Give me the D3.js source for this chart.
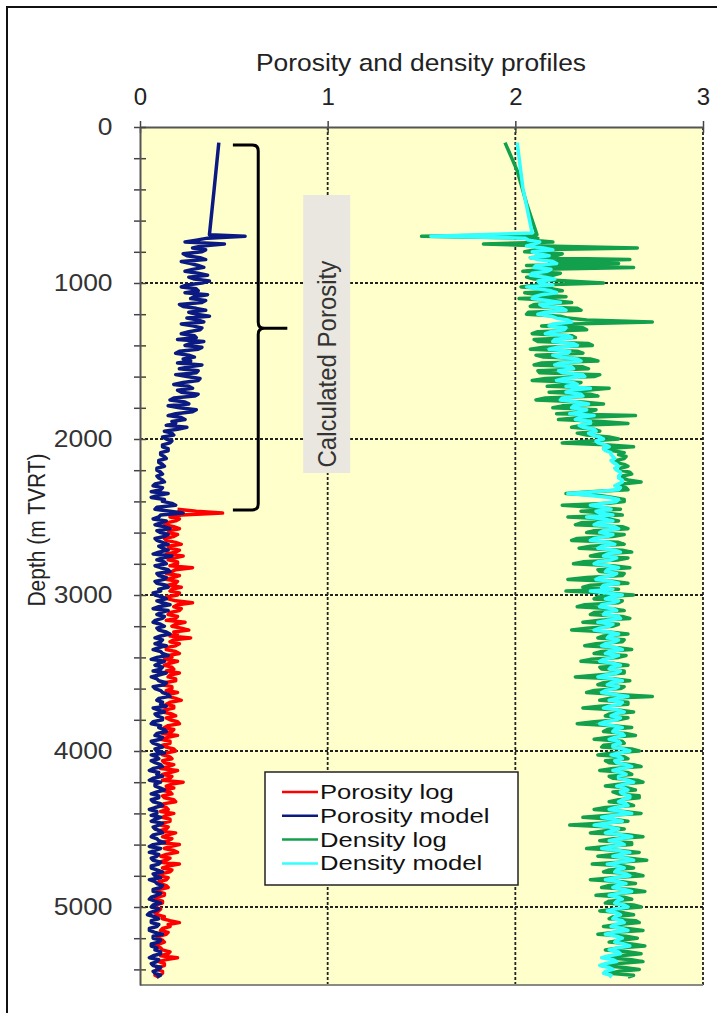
<!DOCTYPE html>
<html>
<head>
<meta charset="utf-8">
<script src="https://cdn.jsdelivr.net/npm/d3@7"></script>
<style>
body { margin: 0; background: #fff; }
text { font-family: "Liberation Sans", Arial, sans-serif; }
</style>
</head>
<body>
<div id="chart"></div>
<script>
// ---- data ----
var xTicks = [0, 1, 2, 3];
var depthTicks = [0, 1000, 2000, 3000, 4000, 5000];
var depthMinorStep = 200;

// logs are sampled every 12.5 m from 700 m down (one row = 200 m)
var gridStart = 700, gridStep = 12.5;

// smooth upper parts (above 700 m)
var porModelTopDepth = [100, 400, 690];
var porModelTop = [0.42, 0.395, 0.37];
var densLogTopDepth = [100, 280, 490, 690];
var densLogTop = [1.945, 2.01, 2.06, 2.115];
var densModelTopDepth = [100, 390, 680];
var densModelTop = [2.01, 2.04, 2.09];

// porosity model, 700 - 5450 m
var porModel = [
  0.56,0.36,0.30,0.24,0.45,0.33,0.28,0.35,0.33,0.23,0.25,0.32,0.35,0.22,0.27,0.31,
  0.34,0.28,0.24,0.31,0.36,0.26,0.29,0.37,0.33,0.25,0.22,0.30,0.31,0.24,0.36,0.29,
  0.27,0.35,0.33,0.21,0.23,0.30,0.35,0.26,0.30,0.37,0.25,0.31,0.34,0.22,0.28,0.33,
  0.32,0.26,0.22,0.29,0.30,0.20,0.34,0.27,0.24,0.33,0.31,0.21,0.19,0.26,0.29,0.23,
  0.27,0.20,0.33,0.26,0.21,0.31,0.30,0.19,0.25,0.32,0.31,0.23,0.18,0.26,0.28,0.20,
  0.22,0.31,0.29,0.18,0.16,0.24,0.26,0.15,0.21,0.30,0.28,0.19,0.15,0.22,0.24,0.17,
  0.19,0.14,0.25,0.20,0.13,0.17,0.18,0.12,0.14,0.17,0.16,0.12,0.12,0.15,0.15,0.11,
  0.11,0.13,0.14,0.10,0.10,0.12,0.13,0.09,0.09,0.11,0.12,0.09,0.10,0.12,0.13,0.08,
  0.07,0.12,0.11,0.06,0.15,0.09,0.06,0.13,0.12,0.17,0.19,0.09,0.08,0.16,0.23,0.11,
  0.10,0.07,0.14,0.11,0.08,0.13,0.16,0.09,0.11,0.15,0.13,0.08,0.09,0.12,0.15,0.10,
  0.12,0.15,0.10,0.07,0.17,0.12,0.09,0.13,0.14,0.08,0.11,0.15,0.16,0.09,0.10,0.14,
  0.13,0.08,0.09,0.14,0.15,0.10,0.11,0.07,0.08,0.12,0.14,0.09,0.12,0.16,0.10,0.07,
  0.15,0.11,0.09,0.13,0.12,0.08,0.07,0.11,0.13,0.09,0.10,0.14,0.16,0.11,0.08,0.12,
  0.11,0.08,0.14,0.10,0.07,0.11,0.12,0.15,0.09,0.06,0.13,0.10,0.08,0.12,0.11,0.07,
  0.14,0.10,0.06,0.09,0.10,0.14,0.13,0.07,0.08,0.11,0.12,0.15,0.16,0.10,0.09,0.12,
  0.11,0.14,0.07,0.10,0.13,0.08,0.09,0.12,0.12,0.07,0.06,0.11,0.10,0.13,0.14,0.09,
  0.08,0.12,0.11,0.06,0.07,0.10,0.12,0.08,0.09,0.13,0.06,0.09,0.10,0.06,0.08,0.11,
  0.12,0.07,0.05,0.10,0.09,0.12,0.07,0.05,0.11,0.08,0.08,0.11,0.13,0.09,0.06,0.10,
  0.10,0.06,0.07,0.11,0.12,0.08,0.05,0.09,0.09,0.06,0.11,0.08,0.06,0.12,0.10,0.07,
  0.08,0.11,0.12,0.07,0.06,0.09,0.10,0.13,0.07,0.05,0.11,0.08,0.05,0.10,0.09,0.06,
  0.07,0.11,0.10,0.06,0.06,0.09,0.12,0.07,0.08,0.11,0.05,0.08,0.09,0.12,0.11,0.07,
  0.07,0.11,0.09,0.06,0.05,0.08,0.11,0.07,0.06,0.10,0.08,0.05,0.04,0.08,0.10,0.06,
  0.06,0.10,0.09,0.05,0.05,0.08,0.12,0.07,0.07,0.11,0.10,0.06,0.06,0.09,0.08,0.11,
  0.11,0.07,0.05,0.10,0.09,0.06,0.07,0.11,0.10,0.07,0.08,0.11,0.09
];

// porosity log, 2450 - 5450 m
var porLogStart = 2450;
var porLog = [
  0.20,0.30,0.44,0.22,0.16,0.21,0.19,0.14,0.13,0.18,0.21,0.16,0.15,0.20,0.18,0.13,
  0.14,0.19,0.22,0.15,0.16,0.21,0.19,0.14,0.23,0.18,0.15,0.20,0.20,0.16,0.28,0.19,
  0.17,0.14,0.21,0.18,0.14,0.20,0.19,0.15,0.22,0.17,0.16,0.21,0.20,0.14,0.15,0.19,
  0.28,0.20,0.18,0.22,0.21,0.16,0.15,0.20,0.19,0.14,0.24,0.19,0.17,0.22,0.26,0.18,
  0.20,0.16,0.27,0.18,0.16,0.21,0.19,0.14,0.14,0.19,0.21,0.15,0.17,0.13,0.20,0.16,
  0.13,0.17,0.18,0.14,0.21,0.16,0.15,0.19,0.19,0.13,0.12,0.17,0.17,0.14,0.20,0.15,
  0.15,0.19,0.22,0.16,0.14,0.18,0.18,0.13,0.12,0.17,0.19,0.14,0.16,0.20,0.21,0.15,
  0.13,0.18,0.17,0.12,0.20,0.15,0.11,0.16,0.16,0.12,0.14,0.18,0.19,0.14,0.12,0.16,
  0.17,0.12,0.13,0.18,0.15,0.11,0.20,0.16,0.12,0.17,0.16,0.12,0.23,0.17,0.14,0.18,
  0.11,0.16,0.17,0.12,0.13,0.18,0.19,0.13,0.10,0.14,0.15,0.11,0.18,0.14,0.12,0.16,
  0.16,0.12,0.11,0.15,0.14,0.10,0.19,0.15,0.12,0.17,0.15,0.11,0.21,0.16,0.13,0.18,
  0.20,0.14,0.11,0.16,0.14,0.10,0.21,0.15,0.12,0.17,0.16,0.11,0.10,0.15,0.14,0.10,
  0.11,0.14,0.15,0.10,0.09,0.13,0.13,0.09,0.08,0.12,0.12,0.08,0.07,0.11,0.10,0.08,
  0.09,0.13,0.12,0.16,0.21,0.15,0.16,0.12,0.11,0.15,0.14,0.10,0.09,0.12,0.13,0.10,
  0.08,0.11,0.12,0.16,0.15,0.11,0.20,0.14,0.10,0.13,0.13,0.09,0.09,0.12,0.12,0.08,
  0.10
];

// density log, 700 - 5450 m
var densLog = [
  1.50,2.12,2.08,2.20,1.83,2.15,2.65,2.10,2.05,2.25,2.22,2.08,2.61,2.18,2.55,2.06,
  2.63,2.15,2.04,2.24,2.20,2.06,2.10,2.28,2.47,2.12,2.03,2.20,2.25,2.05,2.12,2.27,
  2.02,2.20,2.30,2.10,2.08,2.33,2.35,2.07,2.06,2.24,2.28,2.38,2.73,2.30,2.14,2.36,
  2.38,2.12,2.09,2.30,2.32,2.10,2.12,2.39,2.41,2.15,2.08,2.33,2.36,2.11,2.15,2.40,
  2.44,2.14,2.10,2.36,2.39,2.12,2.13,2.45,2.42,2.16,2.09,2.35,2.30,2.17,2.50,2.38,
  2.18,2.40,2.44,2.16,2.11,2.36,2.47,2.25,2.20,2.43,2.40,2.22,2.64,2.35,2.23,2.46,
  2.60,2.35,2.30,2.42,2.45,2.33,2.38,2.50,2.55,2.40,2.25,2.48,2.63,2.47,2.52,2.58,
  2.55,2.59,2.58,2.54,2.53,2.58,2.60,2.56,2.56,2.61,2.62,2.57,2.57,2.60,2.67,2.58,
  2.55,2.59,2.60,2.40,2.27,2.45,2.52,2.58,2.58,2.50,2.25,2.42,2.56,2.35,2.48,2.57,
  2.28,2.50,2.55,2.35,2.32,2.57,2.60,2.42,2.38,2.58,2.52,2.33,2.30,2.55,2.58,2.40,
  2.34,2.57,2.62,2.45,2.40,2.60,2.55,2.36,2.31,2.52,2.61,2.44,2.45,2.58,2.57,2.38,
  2.28,2.52,2.60,2.40,2.36,2.55,2.27,2.48,2.63,2.44,2.42,2.57,2.55,2.37,2.33,2.52,
  2.58,2.42,2.40,2.57,2.61,2.45,2.36,2.55,2.52,2.38,2.30,2.50,2.60,2.47,2.44,2.58,
  2.57,2.43,2.37,2.55,2.62,2.46,2.42,2.59,2.55,2.40,2.35,2.52,2.60,2.45,2.46,2.58,
  2.58,2.44,2.32,2.52,2.61,2.47,2.44,2.58,2.56,2.42,2.38,2.55,2.73,2.50,2.45,2.60,
  2.60,2.45,2.36,2.55,2.63,2.50,2.48,2.60,2.55,2.42,2.33,2.52,2.62,2.49,2.47,2.59,
  2.64,2.50,2.42,2.57,2.58,2.47,2.46,2.62,2.66,2.52,2.44,2.58,2.60,2.48,2.50,2.63,
  2.67,2.52,2.45,2.60,2.62,2.50,2.52,2.65,2.68,2.55,2.48,2.60,2.64,2.52,2.55,2.66,
  2.66,2.55,2.50,2.60,2.63,2.48,2.42,2.58,2.67,2.50,2.36,2.52,2.60,2.45,2.29,2.50,
  2.58,2.47,2.40,2.60,2.68,2.52,2.45,2.62,2.62,2.48,2.38,2.56,2.66,2.53,2.44,2.61,
  2.70,2.55,2.41,2.58,2.63,2.50,2.47,2.64,2.68,2.52,2.40,2.57,2.64,2.50,2.46,2.62,
  2.69,2.55,2.43,2.58,2.62,2.50,2.48,2.63,2.67,2.54,2.45,2.58,2.63,2.52,2.50,2.64,
  2.66,2.55,2.47,2.60,2.68,2.53,2.44,2.59,2.65,2.56,2.50,2.62,2.69,2.55,2.48,2.60,
  2.67,2.56,2.49,2.62,2.68,2.55,2.46,2.58,2.66,2.55,2.50,2.63,2.60
];

// density model, 700 - 5450 m
var densModel = [
  1.55,2.05,2.07,2.13,2.10,2.06,2.15,2.20,2.09,2.12,2.18,2.08,2.12,2.20,2.22,2.11,
  2.10,2.19,2.17,2.09,2.08,2.16,2.21,2.12,2.13,2.20,2.06,2.12,2.19,2.22,2.14,2.10,
  2.09,2.17,2.24,2.13,2.15,2.25,2.27,2.16,2.12,2.19,2.22,2.28,2.30,2.20,2.18,2.27,
  2.26,2.19,2.16,2.28,2.30,2.21,2.20,2.31,2.33,2.22,2.18,2.29,2.28,2.20,2.23,2.33,
  2.35,2.24,2.21,2.30,2.31,2.23,2.25,2.36,2.37,2.26,2.22,2.31,2.33,2.27,2.40,2.30,
  2.27,2.35,2.36,2.25,2.24,2.33,2.39,2.31,2.30,2.38,2.35,2.29,2.42,2.34,2.32,2.40,
  2.40,2.34,2.36,2.42,2.43,2.39,2.41,2.45,2.47,2.43,2.44,2.48,2.50,2.47,2.48,2.51,
  2.51,2.52,2.53,2.51,2.52,2.54,2.55,2.53,2.54,2.56,2.56,2.55,2.55,2.57,2.57,2.55,
  2.53,2.56,2.55,2.42,2.28,2.40,2.50,2.55,2.54,2.47,2.40,2.46,2.51,2.43,2.45,2.52,
  2.38,2.47,2.52,2.44,2.42,2.53,2.55,2.47,2.45,2.52,2.49,2.42,2.40,2.50,2.53,2.46,
  2.44,2.53,2.56,2.49,2.47,2.54,2.51,2.44,2.42,2.50,2.55,2.49,2.48,2.54,2.52,2.45,
  2.43,2.51,2.55,2.47,2.46,2.52,2.40,2.49,2.57,2.51,2.48,2.55,2.52,2.46,2.45,2.52,
  2.54,2.48,2.47,2.55,2.56,2.49,2.44,2.52,2.50,2.45,2.42,2.50,2.55,2.50,2.49,2.55,
  2.53,2.48,2.46,2.54,2.57,2.50,2.48,2.55,2.52,2.47,2.45,2.52,2.56,2.51,2.50,2.56,
  2.54,2.48,2.44,2.52,2.57,2.51,2.49,2.55,2.53,2.48,2.46,2.53,2.60,2.54,2.50,2.57,
  2.56,2.50,2.47,2.55,2.58,2.53,2.51,2.56,2.54,2.48,2.45,2.52,2.57,2.53,2.52,2.57,
  2.58,2.53,2.50,2.55,2.56,2.52,2.52,2.58,2.61,2.55,2.51,2.56,2.57,2.53,2.54,2.59,
  2.62,2.56,2.52,2.57,2.59,2.55,2.55,2.60,2.63,2.58,2.54,2.58,2.60,2.56,2.57,2.61,
  2.61,2.57,2.55,2.59,2.60,2.53,2.50,2.57,2.62,2.53,2.46,2.52,2.57,2.48,2.42,2.50,
  2.55,2.51,2.48,2.57,2.62,2.55,2.50,2.56,2.58,2.51,2.46,2.55,2.61,2.56,2.52,2.59,
  2.63,2.55,2.49,2.55,2.58,2.54,2.53,2.59,2.61,2.53,2.48,2.55,2.59,2.54,2.52,2.58,
  2.62,2.55,2.50,2.55,2.57,2.54,2.53,2.58,2.60,2.53,2.49,2.54,2.56,2.53,2.52,2.57,
  2.58,2.53,2.51,2.57,2.60,2.52,2.48,2.54,2.57,2.54,2.53,2.58,2.61,2.54,2.50,2.55,
  2.56,2.50,2.46,2.52,2.54,2.48,2.45,2.50,2.52,2.48,2.47,2.51,2.50
];

var legendNames = ["Porosity log", "Porosity model", "Density log", "Density model"];
var legendColors = ["#ff0000", "#0b1a82", "#12a04c", "#33ffff"];

// bracket + note, in data units
var bracketDepths = [115, 1290, 2455];   // top, tip, bottom
var bracketX = [0.495, 0.63, 0.785];      // ends, spine, tip
var noteBox = {x0: 0.87, x1: 1.12, d0: 436, d1: 2218};
var noteText = "Calculated Porosity";

// ---- chart ----
var w = 717, h = 1013;
var plotL = 140, plotR = 703, plotT = 127, plotB = 985;
var stretch = "scale(1.1,1)";   // the source picture is a bit wide

function init() {
	var svg = d3.select("#chart").append("svg")
		.attr("width", w)
		.attr("height", h);

	var xScale = d3.scaleLinear().domain([0, 3]).range([plotL, plotR]);
	var yScale = d3.scaleLinear().domain([0, 5500]).range([plotT, plotB]);

	// outer frame
	svg.append("rect")
		.attr("x", 7).attr("y", 7)
		.attr("width", 740).attr("height", 1040)
		.attr("fill", "none")
		.attr("stroke", "#111")
		.attr("stroke-width", 2);

	// plot background
	svg.append("rect")
		.attr("x", plotL).attr("y", plotT)
		.attr("width", plotR - plotL).attr("height", plotB - plotT)
		.attr("fill", "#ffffcc");

	// dashed grid
	svg.selectAll(".hgrid")
		.data(depthTicks.slice(1))
		.enter().append("line")
		.attr("x1", plotL).attr("x2", plotR)
		.attr("y1", function(d) { return yScale(d); })
		.attr("y2", function(d) { return yScale(d); })
		.attr("stroke", "#222").attr("stroke-width", 1.8)
		.attr("stroke-dasharray", "3,2");

	svg.selectAll(".vgrid")
		.data(xTicks.slice(1))
		.enter().append("line")
		.attr("x1", function(d) { return xScale(d); })
		.attr("x2", function(d) { return xScale(d); })
		.attr("y1", plotT).attr("y2", plotB)
		.attr("stroke", "#222").attr("stroke-width", 1.8)
		.attr("stroke-dasharray", "3,2");

	// bottom edge
	svg.append("line")
		.attr("x1", plotL).attr("x2", plotR)
		.attr("y1", plotB).attr("y2", plotB)
		.attr("stroke", "#8a8a80").attr("stroke-width", 2);

	// note box
	svg.append("rect")
		.attr("x", xScale(noteBox.x0))
		.attr("y", yScale(noteBox.d0))
		.attr("width", xScale(noteBox.x1) - xScale(noteBox.x0))
		.attr("height", yScale(noteBox.d1) - yScale(noteBox.d0))
		.attr("fill", "#e9e7df");

	svg.append("text")
		.attr("transform", "translate(" + (xScale((noteBox.x0 + noteBox.x1) / 2) + 9) + "," +
			(yScale(1520)) + ") " + stretch + " rotate(-90)")
		.attr("text-anchor", "middle")
		.attr("font-size", 24)
		.attr("fill", "#333")
		.text(noteText);

	// curly bracket
	var bx0 = xScale(bracketX[0]), bxs = xScale(bracketX[1]), bxt = xScale(bracketX[2]);
	var by0 = yScale(bracketDepths[0]), bym = yScale(bracketDepths[1]), by1 = yScale(bracketDepths[2]);
	var r = 6;
	var br = d3.path();
	br.moveTo(bx0, by0);
	br.lineTo(bxs - r, by0);
	br.quadraticCurveTo(bxs, by0, bxs, by0 + r);
	br.lineTo(bxs, bym - r);
	br.quadraticCurveTo(bxs, bym, bxs + r, bym);
	br.lineTo(bxt, bym);
	br.moveTo(bxs + r, bym);
	br.quadraticCurveTo(bxs, bym, bxs, bym + r);
	br.lineTo(bxs, by1 - r);
	br.quadraticCurveTo(bxs, by1, bxs - r, by1);
	br.lineTo(bx0, by1);
	svg.append("path")
		.attr("d", br.toString())
		.attr("fill", "none")
		.attr("stroke", "#000")
		.attr("stroke-width", 3);

	// series
	var line = d3.line()
		.x(function(d) { return xScale(d.v); })
		.y(function(d) { return yScale(d.d); });

	function pairs(depths, vals) {
		return vals.map(function(v, i) { return {d: depths[i], v: v}; });
	}
	function gridPairs(start, vals) {
		return vals.map(function(v, i) { return {d: start + i * gridStep, v: v}; });
	}

	var series = [
		{top: [], main: gridPairs(porLogStart, porLog), color: legendColors[0]},
		{top: pairs(porModelTopDepth, porModelTop), main: gridPairs(gridStart, porModel), color: legendColors[1]},
		{top: pairs(densLogTopDepth, densLogTop), main: gridPairs(gridStart, densLog), color: legendColors[2]},
		{top: pairs(densModelTopDepth, densModelTop), main: gridPairs(gridStart, densModel), color: legendColors[3]}
	];

	series.forEach(function(s) {
		svg.append("path")
			.datum(s.top.concat(s.main))
			.attr("d", line)
			.attr("fill", "none")
			.attr("stroke", s.color)
			.attr("stroke-width", 3.5)
			.attr("stroke-linejoin", "round");
	});

	// x axis (top)
	var xTickAxis = d3.axisTop(xScale).tickValues(xTicks).tickSize(12).tickFormat("");
	svg.append("g")
		.attr("transform", "translate(0," + (plotT + 6) + ")")
		.call(xTickAxis)
		.call(function(g) { g.select(".domain").remove(); })
		.selectAll("line").attr("stroke", "#444").attr("stroke-width", 1.5);

	var xAxis = d3.axisTop(xScale).tickValues(xTicks).tickFormat(d3.format("d"))
		.tickSize(0).tickPadding(22).tickSizeOuter(0);
	var gx = svg.append("g")
		.attr("transform", "translate(0," + plotT + ")")
		.call(xAxis);
	gx.select(".domain").attr("stroke", "#555").attr("stroke-width", 2);
	gx.selectAll("text")
		.attr("font-size", 24)
		.attr("font-family", "Liberation Sans, Arial, sans-serif")
		.attr("fill", "#222");

	// y axis (left)
	var yTickAxis = d3.axisLeft(yScale)
		.tickValues(d3.range(0, 5500, depthMinorStep))
		.tickSize(12).tickFormat("");
	svg.append("g")
		.attr("transform", "translate(" + (plotL + 6) + ",0)")
		.call(yTickAxis)
		.call(function(g) { g.select(".domain").remove(); })
		.selectAll("line").attr("stroke", "#444").attr("stroke-width", 1.5);

	var yAxis = d3.axisLeft(yScale).tickValues(depthTicks).tickFormat(d3.format("d"))
		.tickSize(0).tickPadding(25).tickSizeOuter(0);
	var gy = svg.append("g")
		.attr("transform", "translate(" + plotL + ",0)")
		.call(yAxis);
	gy.select(".domain").attr("stroke", "#555").attr("stroke-width", 2);
	gy.selectAll("text")
		.attr("font-size", 24)
		.attr("font-family", "Liberation Sans, Arial, sans-serif")
		.attr("fill", "#333")
		.attr("transform", stretch);

	// titles
	svg.append("text")
		.attr("transform", "translate(421,71) " + stretch)
		.attr("text-anchor", "middle")
		.attr("font-size", 24)
		.attr("fill", "#222")
		.text("Porosity and density profiles");

	svg.append("text")
		.attr("transform", "translate(45,530) " + stretch + " rotate(-90)")
		.attr("text-anchor", "middle")
		.attr("font-size", 21)
		.attr("fill", "#222")
		.text("Depth (m TVRT)");

	// legend
	var lg = svg.append("g").attr("transform", "translate(265,772)");
	lg.append("rect")
		.attr("width", 253).attr("height", 113)
		.attr("fill", "#fff")
		.attr("stroke", "#222").attr("stroke-width", 1.5);
	var rows = lg.selectAll(".lrow")
		.data(legendNames)
		.enter().append("g")
		.attr("transform", function(d, i) { return "translate(0," + (20 + i * 23.8) + ")"; });
	rows.append("line")
		.attr("x1", 17).attr("x2", 53)
		.attr("stroke", function(d, i) { return legendColors[i]; })
		.attr("stroke-width", 2.5);
	rows.append("text")
		.attr("transform", "translate(55,7) scale(1.22,1)")
		.attr("font-size", 21)
		.attr("fill", "#111")
		.text(function(d) { return d; });
}

window.onload = init;
</script>
</body>
</html>
